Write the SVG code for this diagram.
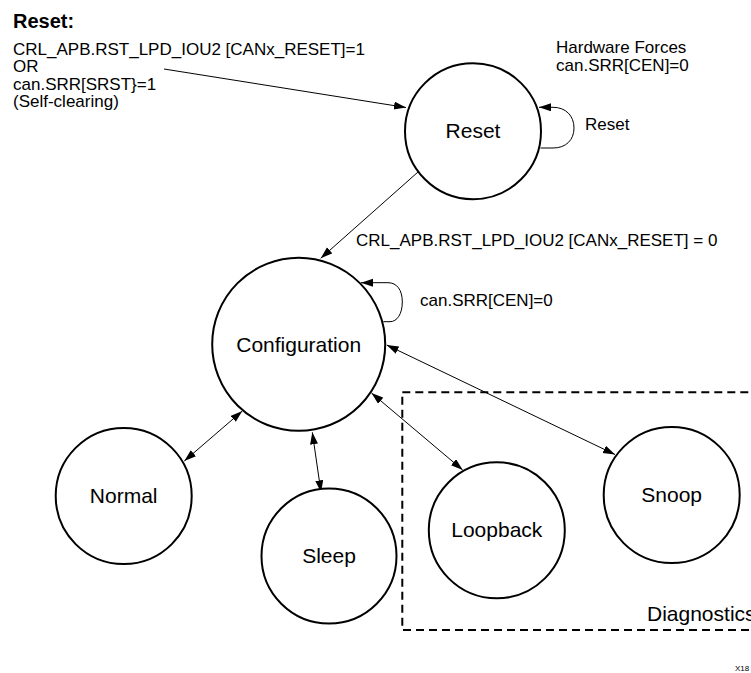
<svg xmlns="http://www.w3.org/2000/svg" width="751" height="673" viewBox="0 0 751 673">
<style>
  .node { fill: #ffffff; stroke: #000000; stroke-width: 2; }
  .lbl { font-family: "Liberation Sans", Arial, sans-serif; font-size: 21px; fill: #000; text-anchor: middle; }
  .txt { font-family: "Liberation Sans", Arial, sans-serif; font-size: 17px; fill: #000; }
  .conn { fill: none; stroke: #000; stroke-width: 1; }
  .dash { fill: none; stroke: #000; stroke-width: 2; stroke-dasharray: 8 5; }
</style>
<defs>
  <marker id="arr" markerUnits="userSpaceOnUse" markerWidth="13" markerHeight="9" refX="12" refY="4" orient="auto-start-reverse" viewBox="0 0 13 9">
    <path d="M0,0 L12,4 L0,8 z" fill="#000"/>
  </marker>
</defs>
<rect width="751" height="673" fill="#ffffff"/>

<g id="diagnostics">
  <rect class="dash" x="402.3" y="392.3" width="360" height="237.7"/>
  <text class="txt" x="647" y="620.7" style="font-size:21px">Diagnostics</text>
</g>

<g id="connectors">
  <path class="conn" d="M164,69 L406,107.5" marker-end="url(#arr)"/>
  <path class="conn" d="M418,172 L320.7,258.3" marker-end="url(#arr)"/>
  <path class="conn" d="M184.3,461 L242.3,411" marker-start="url(#arr)" marker-end="url(#arr)"/>
  <path class="conn" d="M312.3,432.3 L321,492.3" marker-start="url(#arr)" marker-end="url(#arr)"/>
  <path class="conn" d="M371.5,393 L462.7,470" marker-start="url(#arr)" marker-end="url(#arr)"/>
  <path class="conn" d="M386.7,345 L615,454.5" marker-start="url(#arr)" marker-end="url(#arr)"/>
  <path class="conn" d="M540.5,148 L553,148 C566,148 574,140 574,128 C574,116 566,107.3 553,107.3 L539,107.3" marker-end="url(#arr)"/>
  <path class="conn" d="M383.3,321.7 L390,321.7 C397,321.7 402.3,314 402.3,302 C402.3,290 397,282.7 388,282.7 L361,282.7" marker-end="url(#arr)"/>
  <text class="txt" x="585" y="130">Reset</text>
  <text class="txt" x="356" y="246">CRL_APB.RST_LPD_IOU2 [CANx_RESET] = 0</text>
  <text class="txt" x="420" y="306">can.SRR[CEN]=0</text>
</g>

<g id="reset-condition">
  <text class="txt" x="13" y="27.7" style="font-weight:bold;font-size:20px">Reset:</text>
  <text class="txt" x="13" y="55">CRL_APB.RST_LPD_IOU2 [CANx_RESET]=1</text>
  <text class="txt" x="13" y="72.3">OR</text>
  <text class="txt" x="13" y="89.6">can.SRR[SRST}=1</text>
  <text class="txt" x="13" y="106.9">(Self-clearing)</text>
</g>

<g id="hw-forces">
  <text class="txt" x="556" y="53">Hardware Forces</text>
  <text class="txt" x="556" y="71">can.SRR[CEN]=0</text>
</g>

<g id="reset">
  <circle class="node" cx="473" cy="131.2" r="68"/>
  <text class="lbl" x="473" y="138">Reset</text>
</g>
<g id="configuration">
  <circle class="node" cx="298.7" cy="344.3" r="86.5"/>
  <text class="lbl" x="298.7" y="351.5">Configuration</text>
</g>
<g id="normal">
  <circle class="node" cx="123.7" cy="496" r="68"/>
  <text class="lbl" x="123.7" y="503">Normal</text>
</g>
<g id="sleep">
  <circle class="node" cx="329" cy="556" r="67.5"/>
  <text class="lbl" x="329" y="563">Sleep</text>
</g>
<g id="loopback">
  <circle class="node" cx="496.8" cy="530.3" r="68"/>
  <text class="lbl" x="496.8" y="537">Loopback</text>
</g>
<g id="snoop">
  <circle class="node" cx="671.7" cy="495" r="68"/>
  <text class="lbl" x="671.7" y="502">Snoop</text>
</g>

<text class="txt" x="735" y="671" style="font-size:8px">X18</text>
</svg>
